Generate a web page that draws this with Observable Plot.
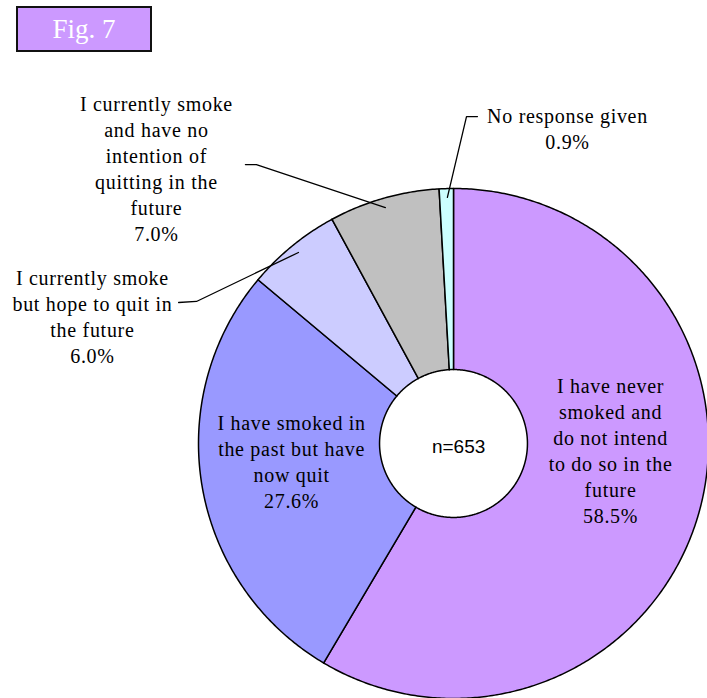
<!DOCTYPE html>
<html>
<head>
<meta charset="utf-8">
<script src="https://cdn.jsdelivr.net/npm/d3@7"></script>
<script src="https://cdn.jsdelivr.net/npm/@observablehq/plot@0.6"></script>
<style>
  html, body { margin: 0; padding: 0; background: #fff; }
  #wrap { position: relative; width: 707px; height: 698px; overflow: hidden; }
  #fig { position: absolute; left: 16px; top: 6px; width: 132px; height: 42px;
         background: #CC99FF; border: 2px solid #111; color: #fff;
         font-family: "Liberation Serif", serif; font-size: 27px;
         line-height: 42px; text-align: center; }
  #chart { position: absolute; left: 0; top: 0; }
  #chart g[font-family="Liberation Serif"] text { letter-spacing: 0.7px; }
</style>
</head>
<body>
<div id="wrap">
  <div id="chart"></div>
  <div id="fig">Fig. 7</div>
</div>
<script>
// ---- data ----
const categories = [
  "I have never smoked and do not intend to do so in the future",
  "I have smoked in the past but have now quit",
  "I currently smoke but hope to quit in the future",
  "I currently smoke and have no intention of quitting in the future",
  "No response given"
];
const values = [58.5, 27.6, 6.0, 7.0, 0.9];
const colors = ["#CC99FF", "#9999FF", "#CCCCFF", "#C0C0C0", "#CCFFFF"];
const labelLines = [
  ["I have never", "smoked and", "do not intend", "to do so in the", "future"],
  ["I have smoked in", "the past but have", "now quit"],
  ["I currently smoke", "but hope to quit in", "the future"],
  ["I currently smoke", "and have no", "intention of", "quitting in the", "future"],
  ["No response given"]
];
const sampleSize = 653;

// ---- layout (unit-circle coordinates, y up) ----
const innerR = 0.29;
const labelPos = [[0.616, -0.024], [-0.635, -0.069], [-1.416, 0.502], [-1.165, 1.080], [0.447, 1.237]];
const leaders = [
  null, null,
  [[-1.078, 0.553], [-1.008, 0.557], [-0.608, 0.749]],
  [[-0.816, 1.094], [-0.773, 1.094], [-0.267, 0.925]],
  [[0.094, 1.282], [0.051, 1.282], [-0.024, 0.965]]
];

// ---- slice polygons from values ----
const total = d3.sum(values);
const slicePts = [];
let acc = 0;
values.forEach((v, i) => {
  const a0 = acc / total * 2 * Math.PI;
  acc += v;
  const a1 = acc / total * 2 * Math.PI;
  const steps = Math.max(2, Math.ceil((a1 - a0) / (Math.PI / 360)));
  const pts = [];
  for (let k = 0; k <= steps; k++) {
    const a = a0 + (a1 - a0) * k / steps;
    pts.push({x: Math.sin(a), y: Math.cos(a)});
  }
  for (let k = steps; k >= 0; k--) {
    const a = a0 + (a1 - a0) * k / steps;
    pts.push({x: innerR * Math.sin(a), y: innerR * Math.cos(a)});
  }
  pts.push(pts[0]);
  pts.forEach(p => slicePts.push({...p, name: categories[i], color: colors[i]}));
});

const labels = categories.map((c, i) => ({
  text: labelLines[i].join("\n") + "\n" + values[i].toFixed(1) + "%",
  x: labelPos[i][0], y: labelPos[i][1]
}));
const leaderPts = [];
leaders.forEach((l, i) => { if (l) l.forEach(p => leaderPts.push({x: p[0], y: p[1], name: categories[i]})); });

const chart = Plot.plot({
  width: 707,
  height: 698,
  margin: 0,
  x: {domain: [-1, 1], range: [198, 708], axis: null},
  y: {domain: [-1, 1], range: [698, 188], axis: null},
  color: {type: "identity"},
  marks: [
    Plot.line(slicePts, {x: "x", y: "y", z: "name", fill: "color", stroke: "#000", strokeWidth: 1.5, curve: "linear"}),
    Plot.line(leaderPts, {x: "x", y: "y", z: "name", stroke: "#000", strokeWidth: 1.3}),
    Plot.text(labels, {x: "x", y: "y", text: "text", fontFamily: "Liberation Serif", fontSize: 20,
      lineHeight: 1.3, lineAnchor: "middle", textAnchor: "middle", fill: "#000"}),
    Plot.text([{x: 0.02, y: -0.014, t: "n=" + sampleSize}], {x: "x", y: "y", text: "t",
      fontFamily: "Liberation Sans", fontSize: 19, fill: "#000"})
  ]
});
document.getElementById("chart").appendChild(chart);
</script>
</body>
</html>
